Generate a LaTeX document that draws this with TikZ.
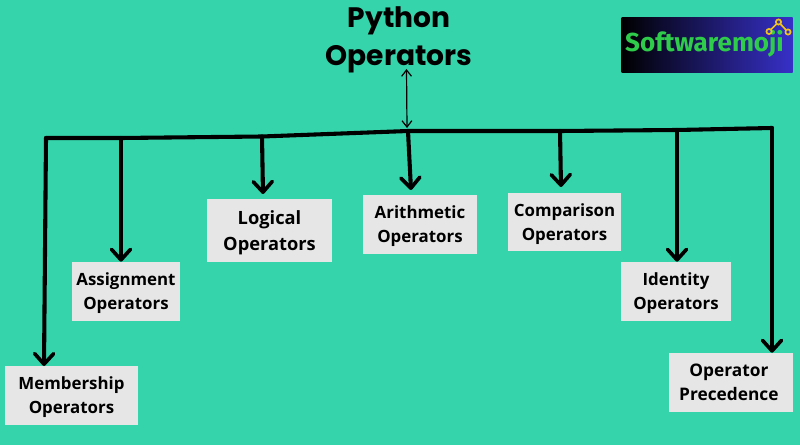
\documentclass[tikz,border=0pt]{standalone}
\usepackage{fontspec}
\setmainfont{Open Sans}
\newfontfamily\titlefont{Poppins}
\newfontfamily\logofont{Fira Sans}
\usetikzlibrary{arrows.meta,positioning}
\definecolor{bgteal}{HTML}{36D4AA}
\definecolor{boxgray}{HTML}{E6E6E6}
\definecolor{logogreen}{HTML}{2ECC4A}
\definecolor{logoblue}{HTML}{3730C8}
\definecolor{logoyellow}{HTML}{F2C21A}
\tikzset{
  OpBox/.style={
    fill=boxgray, align=center, inner sep=0pt, text depth=0pt,
    font=\bfseries\fontsize{12}{17}\selectfont
  },
  BarLine/.style={line width=2.9pt, line cap=round, line join=round},
  DropArrow/.style={BarLine, -{Straight Barb[round,length=7.5pt,width=13.5pt,line width=2.6pt]}},
  ThinArrow/.style={line width=0.85pt, {Straight Barb[length=4.5pt,width=7pt]}-{Straight Barb[length=4.5pt,width=7pt]}}
}
\begin{document}
\begin{tikzpicture}[x=0.025cm, y=-0.025cm]
  \useasboundingbox[fill=bgteal] (0,0) rectangle (800,445);

  % title and logo
  \node[font=\titlefont\bfseries\fontsize{20}{27}\selectfont, align=center, inner sep=0pt] (title) at (399,39.5) {Python\\Operators};
  \node[left color=black, right color=logoblue, minimum width=171*0.025cm, minimum height=55*0.025cm, inner sep=0pt] (logo) at (707,45) {};
  \node[font=\logofont\bfseries\fontsize{18.5}{20}\selectfont, text=logogreen, inner sep=0pt] (logotext) at (704.5,43.5) {Softwaremoji};
  \draw[logoyellow, line width=1.2pt] (769,31.5) -- (778.5,22) -- (788,32);
  \foreach \cx/\cy in {769/31.5, 778.5/22, 788/32}
    \draw[logoyellow, line width=1.2pt, fill=logoblue] (\cx,\cy) circle (2.6);

  % operator boxes
  \node[OpBox, minimum width=133*0.025cm, minimum height=59*0.025cm] (member) at (71.5,395.5) {Membership\\Operators};
  \node[OpBox, minimum width=108*0.025cm, minimum height=59*0.025cm] (assign) at (126,291.5) {Assignment\\Operators};
  \node[OpBox, minimum width=125*0.025cm, minimum height=63*0.025cm, font=\bfseries\fontsize{13}{18.5}\selectfont] (logical) at (269.5,230.5) {Logical\\Operators};
  \node[OpBox, minimum width=114*0.025cm, minimum height=59*0.025cm] (arith) at (420,224.5) {Arithmetic\\Operators};
  \node[OpBox, minimum width=113*0.025cm, minimum height=58*0.025cm] (compare) at (564.5,222) {Comparison\\Operators};
  \node[OpBox, minimum width=110*0.025cm, minimum height=59*0.025cm] (ident) at (676,291.5) {Identity\\Operators};
  \node[OpBox, minimum width=124*0.025cm, minimum height=59*0.025cm, text depth=, font=\bfseries\fontsize{12.3}{17}\selectfont] (preced) at (731,382.5) {Operator\hspace*{3pt}\\Precedence\hspace*{3pt}};

  % main bar
  \coordinate (barA) at (46,138);
  \coordinate (barB) at (121,138);
  \coordinate (barC) at (262,136.5);
  \coordinate (barD) at (408,131);
  \coordinate (barE) at (560,131);
  \coordinate (barF) at (677,130);
  \coordinate (barG) at (772,128);
  \draw[BarLine] (barA) -- (barB) -- (barC) -- (barD) -- (barE) -- (barF) -- (barG);

  % arrows down to the boxes
  \coordinate (tipA) at (44,366);
  \coordinate (tipC) at (263,194);
  \coordinate (tipD) at (411,190);
  \coordinate (tipE) at (561,187);
  \draw[DropArrow] (barA) -- (tipA);
  \draw[DropArrow] (barB) -- (assign.north -| barB);
  \draw[DropArrow] (barC) -- (tipC);
  \draw[DropArrow] (barD) -- (tipD);
  \draw[DropArrow] (barE) -- (tipE);
  \draw[DropArrow] (barF) -- (ident.north -| barF);
  \draw[DropArrow] (barG) -- (preced.north -| barG);

  \coordinate (titleEnd) at (406.5,69);
  \coordinate (barEnd) at (407,128);
  \draw[ThinArrow] (titleEnd) -- (barEnd);
\end{tikzpicture}
\end{document}
